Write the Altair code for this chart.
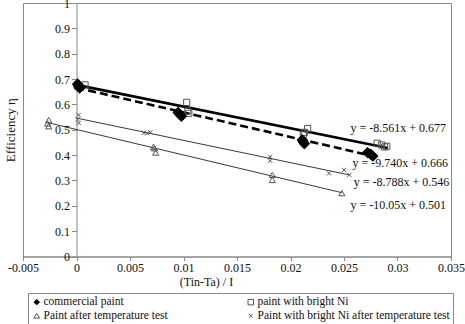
import altair as alt
import pandas as pd

# ---------------- data ----------------
series_names = [
    "commercial paint",
    "paint with bright Ni",
    "Paint after temperature test",
    "Paint with bright Ni after temperature test",
]

cp_x = [0.0001, 0.0002, 0.0002, 0.0003, 0.0095, 0.0097, 0.0098, 0.0211, 0.0212, 0.0213, 0.0272, 0.0275, 0.0277]
cp_y = [0.680, 0.675, 0.670, 0.665, 0.568, 0.560, 0.553, 0.460, 0.452, 0.445, 0.410, 0.403, 0.396]

ni_x = [0.0001, 0.0008, 0.0103, 0.0104, 0.0105, 0.0216, 0.0213, 0.0212, 0.0281, 0.0285, 0.0290, 0.0288]
ni_y = [0.672, 0.677, 0.608, 0.574, 0.565, 0.505, 0.490, 0.482, 0.447, 0.440, 0.435, 0.432]

pt_x = [-0.0026, -0.0027, -0.0026, 0.0072, 0.0073, 0.0074, 0.0183, 0.0183, 0.0248]
pt_y = [0.538, 0.525, 0.514, 0.433, 0.427, 0.410, 0.322, 0.302, 0.250]

pn_x = [0.0002, 0.0001, 0.0002, 0.0063, 0.0066, 0.0069, 0.0181, 0.0181, 0.0236, 0.0250, 0.0255]
pn_y = [0.558, 0.541, 0.527, 0.488, 0.486, 0.490, 0.393, 0.378, 0.328, 0.341, 0.322]

# trend lines: y = slope * x + intercept
trend_series = ["commercial paint", "paint with bright Ni",
                "Paint after temperature test", "Paint with bright Ni after temperature test"]
trend_slope = [-9.740, -8.561, -10.05, -8.788]
trend_intercept = [0.666, 0.677, 0.501, 0.546]
trend_x_start = [0.0, 0.0, -0.0027, 0.0]
trend_x_end = [0.0277, 0.0291, 0.0248, 0.0255]

eq_text = ["y = -8.561x + 0.677", "y = -9.740x + 0.666", "y = -8.788x + 0.546", "y = -10.05x + 0.501"]
eq_x = [0.0256, 0.0258, 0.0259, 0.0256]
eq_y = [0.507, 0.369, 0.294, 0.203]

x_ticks = [-0.005, 0, 0.005, 0.01, 0.015, 0.02, 0.025, 0.03, 0.035]
y_ticks = [0, 0.1, 0.2, 0.3, 0.4, 0.5, 0.6, 0.7, 0.8, 0.9, 1]

# ---------------- tables ----------------
rows = []
for name, xs_, ys_ in zip(series_names, [cp_x, ni_x, pt_x, pn_x], [cp_y, ni_y, pt_y, pn_y]):
    for a, b in zip(xs_, ys_):
        rows.append({"series": name, "x": a, "y": b})
pts = pd.DataFrame(rows)

lrows = []
for s, m, c, x0, x1 in zip(trend_series, trend_slope, trend_intercept, trend_x_start, trend_x_end):
    for xv in (x0, x1):
        lrows.append({"series": s, "x": xv, "y": m * xv + c})
lines = pd.DataFrame(lrows)

eqs = pd.DataFrame({"t": eq_text, "x": eq_x, "y": eq_y})

# ---------------- layout ----------------
FONT = "Liberation Serif"
W, H = 428, 253.5
XMIN, XMAX = -0.005, 0.035
PAD_L, PAD_T = 23, 3
yaxis_offset = -W * (0 - XMIN) / (XMAX - XMIN)

xs = alt.Scale(domain=[XMIN, XMAX], nice=False, zero=False)
ys = alt.Scale(domain=[0, 1], nice=False, zero=False)

x_axis = alt.Axis(
    values=x_ticks, grid=False, title="(Tin-Ta) / I", labelOverlap=False, labelFlush=False,
    labelExpr="replace(format(datum.value, '~g'), '\u2212', '-')",
    labelFont=FONT, labelFontSize=12, labelColor="#111", labelPadding=2,
    titleFont=FONT, titleFontSize=12, titleFontWeight="normal", titleColor="#111",
    titlePadding=3, titleX=183,
    tickColor="#888", tickSize=4, domainColor="#888",
)
y_axis = alt.Axis(
    values=y_ticks, grid=False, title="Efficiency \u03b7", offset=yaxis_offset,
    labelOverlap=False, labelFlush=False, labelBound=False,
    labelExpr="format(datum.value, '~g')",
    labelFont=FONT, labelFontSize=12, labelColor="#111", labelPadding=2,
    titleFont=FONT, titleFontSize=13, titleFontWeight="normal", titleColor="#111",
    titleX=-(PAD_L - 10) + yaxis_offset, titleY=H / 2, titleAngle=-90,
    titleBaseline="middle", titleAlign="center",
    tickColor="#888", tickSize=5, domainColor="#888",
)

legend = alt.Legend(
    title=None, orient="none", legendX=5, legendY=290, columns=2, direction="horizontal",
    columnPadding=77, rowPadding=1, padding=3,
    strokeColor="#888", labelFont=FONT, labelFontSize=11.5, labelColor="#111",
    labelLimit=400, symbolSize=30, symbolStrokeWidth=1, labelOffset=1,
)

shapes = ["diamond", "square", "triangle-up", "M-0.7,-0.7L0.7,0.7M-0.7,0.7L0.7,-0.7"]

base_x = alt.X("x:Q", scale=xs, axis=x_axis)
base_y = alt.Y("y:Q", scale=ys, axis=y_axis)

shape_enc = alt.Shape("series:N", scale=alt.Scale(domain=series_names, range=shapes), legend=legend)
fill_enc = alt.Fill("series:N", scale=alt.Scale(domain=series_names,
                    range=["black", "transparent", "transparent", "transparent"]), legend=legend)
stroke_enc = alt.Stroke("series:N", scale=alt.Scale(domain=series_names,
                        range=["black", "#555", "#555", "#555"]), legend=legend)

solid = alt.Chart(lines).transform_filter(
    alt.datum.series == "paint with bright Ni"
).mark_line(color="black", strokeWidth=2.6).encode(x=base_x, y=base_y, detail="series:N")

dashed = alt.Chart(lines).transform_filter(
    alt.datum.series == "commercial paint"
).mark_line(color="black", strokeWidth=2.6, strokeDash=[8, 4]).encode(x=base_x, y=base_y, detail="series:N")

thin = alt.Chart(lines).transform_filter(
    (alt.datum.series == "Paint after temperature test")
    | (alt.datum.series == "Paint with bright Ni after temperature test")
).mark_line(color="#222", strokeWidth=0.9).encode(x=base_x, y=base_y, detail="series:N")

others = alt.Chart(pts).transform_filter(
    alt.datum.series != "commercial paint"
).mark_point(strokeWidth=1, opacity=1, size=38).encode(
    x=base_x, y=base_y, shape=shape_enc, fill=fill_enc, stroke=stroke_enc,
)
diamonds = alt.Chart(pts).transform_filter(
    alt.datum.series == "commercial paint"
).mark_point(strokeWidth=1, opacity=1, size=110).encode(
    x=base_x, y=base_y, shape=shape_enc, fill=fill_enc, stroke=stroke_enc,
)

labels = alt.Chart(eqs).mark_text(
    align="left", baseline="middle", font=FONT, fontSize=12, color="#111"
).encode(x=base_x, y=base_y, text="t:N")

chart = alt.layer(solid, dashed, thin, others, diamonds, labels).properties(
    width=W, height=H,
    autosize=alt.AutoSizeParams(type="none"),
    padding={"left": PAD_L, "top": PAD_T, "right": 465 - PAD_L - W, "bottom": 324 - PAD_T - H},
    background="white",
).configure_view(stroke="#888", strokeWidth=1)

chart.save("out.html", embed_options={"renderer": "svg", "actions": False})
